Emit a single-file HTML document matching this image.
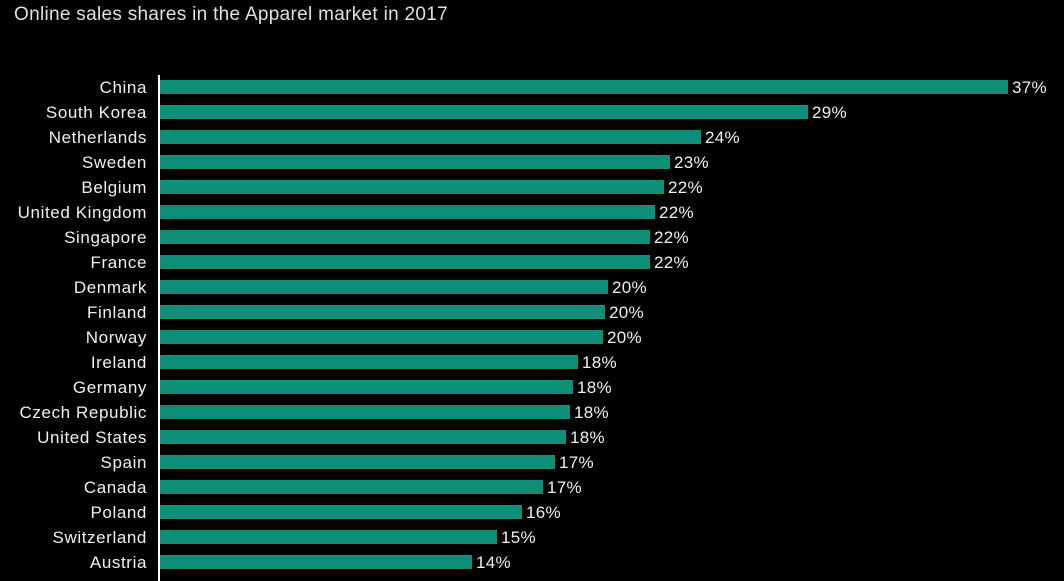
<!DOCTYPE html>
<html><head><style>
body{margin:0;background:#000;width:1064px;height:581px;overflow:hidden;font-family:"Liberation Sans",sans-serif;color:#f0f0f0;position:relative}
.t{position:absolute;left:14px;top:4px;font-size:19px;letter-spacing:0.3px;color:#e0e0e0}
.ax{position:absolute;left:158px;top:75px;width:2px;height:506px;background:#fff}
.b{position:absolute;left:160px;height:14px;background:#0f8f77}
.l{position:absolute;right:917px;font-size:17px;letter-spacing:0.6px;text-align:right;white-space:nowrap}
.v{position:absolute;font-size:17px;letter-spacing:0.3px}
</style></head><body>
<div class="t">Online sales shares in the Apparel market in 2017</div>
<div class="ax"></div>
<div id="c"></div>
<script>
var d=[["China",1008,37],["South Korea",808,29],["Netherlands",701,24],["Sweden",670,23],["Belgium",664,22],["United Kingdom",655,22],["Singapore",650,22],["France",650,22],["Denmark",608,20],["Finland",605,20],["Norway",603,20],["Ireland",578,18],["Germany",573,18],["Czech Republic",570,18],["United States",566,18],["Spain",555,17],["Canada",543,17],["Poland",522,16],["Switzerland",497,15],["Austria",472,14]];
var h="";d.forEach(function(r,i){var y=80+i*25;
h+='<div class="l" style="top:'+(y-2)+'px">'+r[0]+'</div><div class="b" style="top:'+y+'px;width:'+(r[1]-160)+'px"></div><div class="v" style="left:'+(r[1]+4)+'px;top:'+(y-2)+'px">'+r[2]+'%</div>';});
document.getElementById("c").innerHTML=h;
</script>
</body></html>
